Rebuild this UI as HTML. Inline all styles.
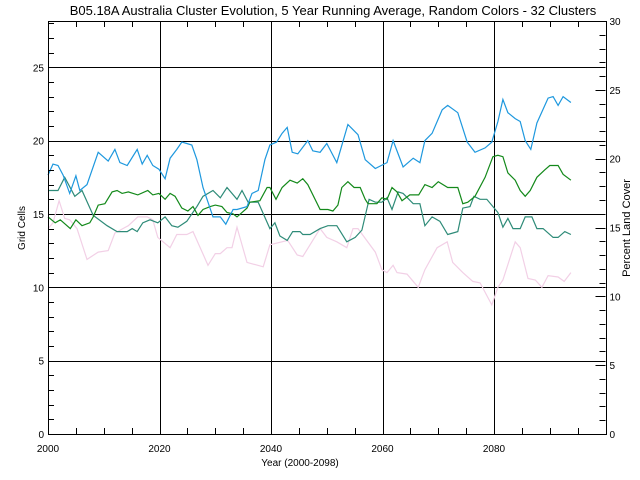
<!DOCTYPE html>
<html><head><meta charset="utf-8"><style>
body{margin:0;background:#fff;}
svg{display:block;font-family:"Liberation Sans",sans-serif;}
</style></head><body>
<svg id="chart" width="640" height="480" viewBox="0 0 640 480">
<text x="333" y="15" font-size="13" text-anchor="middle" fill="#000">B05.18A Australia Cluster Evolution, 5 Year Running Average, Random Colors - 32 Clusters</text>
<text x="300" y="466" font-size="10" text-anchor="middle">Year (2000-2098)</text>
<text transform="translate(25,228) rotate(-90)" font-size="10" text-anchor="middle">Grid Cells</text>
<text transform="translate(630,228) rotate(-90)" font-size="11" text-anchor="middle">Percent Land Cover</text>
<g id="grid"></g><g id="series"></g><g id="axes"></g>
</svg>
<script>
const xTicks=[2000,2020,2040,2060,2080];
const yTicksLeft=[0,5,10,15,20,25];
const yTicksRight=[0,5,10,15,20,25,30];
const blueYears=[0,0.9,1.8,2.7,3.9,5,5.7,7,9,10.8,12,12.9,14.2,16,16.9,17.8,18.8,19.9,21,21.9,23.1,24,24.9,25.8,26.7,27.8,29.6,30.9,31.9,33.2,33.9,35.7,36.6,37.7,38.9,39.8,41,42,42.9,43.8,44.8,46.6,47.5,48.8,50,51.8,53.8,55.6,56.9,58.7,60.8,61.9,63.7,65.5,66.7,67.6,68.9,70.7,71.7,73.5,75.2,76.6,78.4,79.6,80.7,81.6,82.5,83.8,84.7,85.6,86.6,87.7,89.7,90.6,91.5,92.4,93.8];
const blueVals=[17.65,18.4,18.3,17.65,16.4,17.6,16.6,17.0,19.2,18.6,19.4,18.5,18.3,19.4,18.4,19.0,18.3,18.05,17.4,18.8,19.4,19.9,19.8,19.7,18.7,16.8,14.8,14.8,14.3,15.3,15.3,15.5,16.4,16.6,18.7,19.7,19.9,20.5,20.9,19.2,19.1,20.0,19.3,19.2,19.8,18.5,21.1,20.4,18.7,18.1,18.5,20.0,18.2,18.8,18.5,20.0,20.5,22.1,22.4,21.9,19.9,19.2,19.5,19.9,21.3,22.8,21.9,21.5,21.3,20.0,19.4,21.2,22.9,23.0,22.4,23.0,22.6];
const greenYears=[0,1.3,2.2,4,5,6.1,7.5,8.1,9,10.2,11.5,12.4,13.3,14.4,16.1,17.9,18.8,19.9,21,21.9,22.8,24,25.1,26,26.9,27.8,29.1,30,31.2,32.1,33.2,33.9,35.7,36.2,38,39.3,39.8,40.9,42,43.4,44.7,45.7,46.6,48.8,50.2,51.1,52,52.7,53.8,54.9,56,56.9,57.4,59,59.9,60.8,61.7,62.6,63.5,64.9,66.5,67.6,68.9,70,71.7,73.5,74.4,75.3,76.6,78.4,79.8,80.7,81.6,82.5,83.8,84.7,85.6,86.5,87.7,89.1,90,91.5,92.4,93.8];
const greenVals=[14.8,14.4,14.6,14.0,14.6,14.2,14.4,14.8,15.6,15.7,16.5,16.6,16.4,16.5,16.3,16.6,16.3,16.4,16.0,16.4,16.2,15.4,15.2,15.5,14.9,15.3,15.5,15.6,15.5,15.1,15.0,14.8,15.4,15.8,15.9,16.8,16.8,16.0,16.8,17.3,17.1,17.4,17.0,15.3,15.3,15.2,15.6,16.8,17.2,16.8,16.8,16.0,15.7,15.7,16.1,16.0,16.8,16.5,15.9,16.3,16.3,17.0,16.8,17.2,16.8,16.8,15.7,15.8,16.2,17.5,18.9,19.0,18.9,17.8,17.3,16.6,16.2,16.6,17.5,18.0,18.3,18.3,17.7,17.3];
const tealYears=[0,1.8,3,4.8,6.1,8.1,10.6,12.4,14.2,15.1,16,17,18.3,19.7,21,22.2,23.3,24.9,26.7,27.8,29.6,30.9,32.1,33.9,34.8,35.9,37.7,39.8,40.7,41.6,42.9,43.9,45.2,45.7,47,48.8,50.2,51.8,53.6,55.1,56.3,57.6,58.7,59.9,60.8,61.7,62.8,63.7,65.5,66.7,67.6,68.9,70.3,71.7,73.5,74.4,75.7,76.4,77.5,78.7,80.7,81.6,82.5,83.4,84.7,85.6,86.8,87.7,88.8,90.6,91.5,92.7,93.8];
const tealVals=[16.6,16.6,17.5,16.2,16.6,14.9,14.2,13.8,13.8,14.0,13.8,14.4,14.6,14.4,14.8,14.2,14.1,14.5,15.5,16.2,16.6,16.1,16.8,16.0,16.6,15.8,15.8,14.0,14.4,13.5,13.2,13.8,13.8,13.6,13.6,14.0,14.2,14.2,13.1,13.4,13.9,16.0,15.8,15.8,16.1,15.3,16.5,16.4,15.7,15.7,14.2,14.8,14.5,13.6,13.8,15.4,15.5,16.2,16.0,16.0,15.1,14.1,14.7,14.0,14.0,14.8,14.8,14.0,14.0,13.4,13.4,13.8,13.6];
const pinkYears=[0,0.9,2,3,3.9,5.2,7,9,10.8,12,14.4,16.1,17.8,18.8,19.7,21.9,23.1,24.9,26,27.3,28.7,30,30.9,32.1,33,33.9,35.7,38.6,39.8,43,44.7,45.7,48.8,50,51.8,53.6,54.7,55.6,58.7,59.9,60.8,61.9,62.6,64.4,66.4,67.6,69.8,71.6,72.6,74.4,76.2,77.5,79.6,80.7,81.6,83.8,84.7,86.1,87.4,88.6,89.7,91.5,92.6,93.8];
const pinkVals=[14.0,14.4,15.9,14.7,14.6,14.0,11.9,12.4,12.5,13.7,14.2,14.8,14.8,14.6,13.4,12.7,13.6,13.6,13.8,12.7,11.5,12.3,12.3,12.7,12.7,14.1,11.7,11.4,12.9,13.2,12.2,12.1,14.0,13.4,13.1,12.7,14.0,14.0,12.4,11.2,11.0,11.5,11.0,10.9,10.0,11.2,12.7,13.1,11.7,11.0,10.4,10.3,8.8,10.0,10.5,13.1,12.7,10.6,10.5,10.0,10.8,10.7,10.4,11.0];

const X0=48,X1=605.5,YB=434,YT=21,LMAX=(434-21)/14.67,RMAX=30;
const xs=y=>X0+(y-2000)/100*(X1-X0);
const yl=v=>YB-v/LMAX*(YB-YT);
const yr=v=>YB-v/RMAX*(YB-YT);
const px=v=>Math.round(v)+0.5;
const NS='http://www.w3.org/2000/svg';
function mk(parent,tag,attrs){const e=document.createElementNS(NS,tag);for(const k in attrs)e.setAttribute(k,attrs[k]);parent.appendChild(e);return e;}
const grid=document.getElementById('grid'),axes=document.getElementById('axes'),ser=document.getElementById('series');
xTicks.forEach(t=>{
  if(t>2000){const l=mk(grid,'line',{x1:px(xs(t)),x2:px(xs(t)),y1:YT,y2:YB,stroke:'#000','stroke-width':1});
  
  }
  const tx=mk(axes,'text',{x:xs(t),y:452,'font-size':10,'text-anchor':'middle'});tx.textContent=t;
  
  
});
for(let y=2005;y<2100;y+=5){mk(axes,'line',{x1:px(xs(y)),x2:px(xs(y)),y1:YB,y2:YB-6,stroke:'#000'});mk(axes,'line',{x1:px(xs(y)),x2:px(xs(y)),y1:YT,y2:YT+6,stroke:'#000'});}
yTicksLeft.forEach(v=>{
  if(v>0){const l=mk(grid,'line',{x1:X0,x2:X1,y1:px(yl(v)),y2:px(yl(v)),stroke:'#000','stroke-width':1});
  
  }
  const tx=mk(axes,'text',{x:X0-4,y:yl(v)+4,'font-size':10,'text-anchor':'end'});tx.textContent=v;
  
  
});
for(let v=1;v<LMAX;v++)mk(axes,'line',{x1:X0,x2:X0+6,y1:px(yl(v)),y2:px(yl(v)),stroke:'#000'});
for(let v=1;v<RMAX;v++)mk(axes,'line',{x1:X1,x2:X1-6,y1:px(yr(v)),y2:px(yr(v)),stroke:'#000'});
yTicksRight.forEach(v=>{
  mk(axes,'line',{x1:X1,x2:X1-10,y1:px(yr(v)),y2:px(yr(v)),stroke:'#000'});
  const tx=mk(axes,'text',{x:X1+4,y:yr(v)+4,'font-size':10});tx.textContent=v;
  
  
});
const frame=mk(axes,'rect',{x:px(X0),y:px(YT),width:Math.round(X1-X0),height:YB-YT,fill:'none',stroke:'#000','stroke-width':1});


function line(years,vals,color,name){
  const d=years.map((y,i)=>(i?'L':'M')+xs(2000+y).toFixed(1)+','+yl(vals[i]).toFixed(1)).join('');
  const p=mk(ser,'path',{d:d,fill:'none',stroke:color,'stroke-width':1.2});
  
  
}
line(pinkYears,pinkVals,'#f2d0e6','series-pink');
line(tealYears,tealVals,'#2e8b78','series-teal');
line(greenYears,greenVals,'#13891a','series-green');
line(blueYears,blueVals,'#1e98de','series-blue');
</script>
</body></html>
